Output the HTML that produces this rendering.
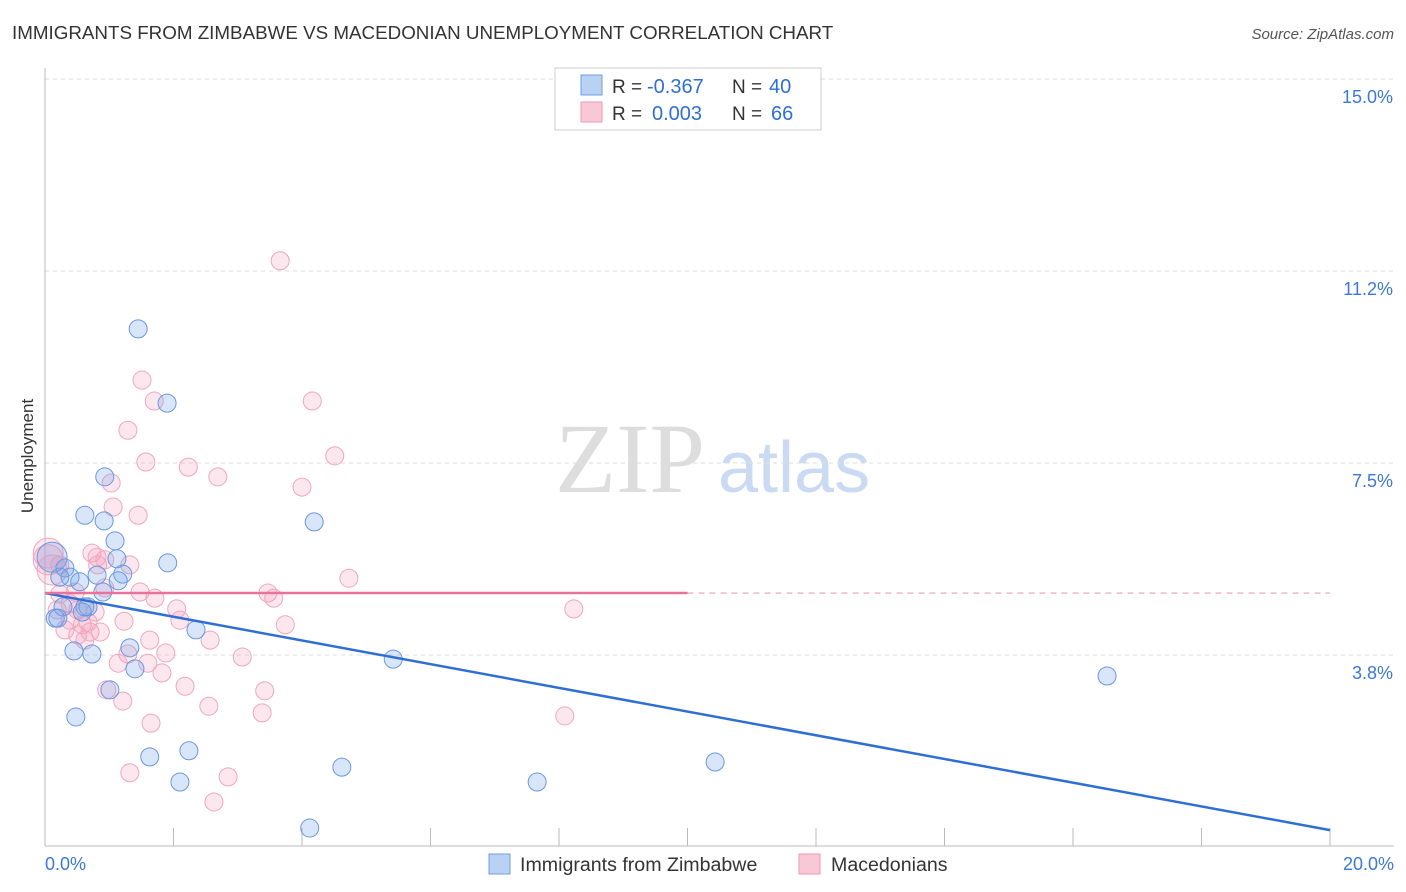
<!DOCTYPE html>
<html><head><meta charset="utf-8">
<style>
body{margin:0;background:#fff;font-family:"Liberation Sans",sans-serif;}
#wrap{position:relative;width:1406px;height:892px;overflow:hidden;}
</style></head>
<body>
<div id="wrap">
<svg id="svg" width="1406" height="892" xmlns="http://www.w3.org/2000/svg">
<text x="12" y="39" font-size="18.8" fill="#333">IMMIGRANTS FROM ZIMBABWE VS MACEDONIAN UNEMPLOYMENT CORRELATION CHART</text>
<text x="1394" y="39" font-size="15" fill="#555" font-style="italic" text-anchor="end">Source: ZipAtlas.com</text>
<text x="33" y="456" font-size="17" fill="#333" text-anchor="middle" transform="rotate(-90 33 456)">Unemployment</text>
<text x="555" y="492" font-size="100" fill="#ddd" font-family="Liberation Serif,serif">ZIP</text>
<text x="718" y="492" font-size="72" fill="#c9daf2">atlas</text>
<g id="grid"></g><g id="pts"></g><g id="lines"></g>
<g>
<rect x="555" y="68" width="266" height="62" fill="#fff" stroke="#ccc"/>
<rect x="581" y="75" width="21" height="20" fill="#b9d1f3" stroke="#6f9de0"/>
<rect x="581" y="102" width="21" height="20" fill="#f9c8d7" stroke="#ee9ab5"/>
<text x="612" y="93" font-size="19" fill="#333">R =</text>
<text x="647" y="93" font-size="20" fill="#2f6fd4">-0.367</text>
<text x="732" y="93" font-size="19" fill="#333">N =</text>
<text x="769" y="93" font-size="20" fill="#2f6fd4">40</text>
<text x="612" y="120" font-size="19" fill="#333">R =</text>
<text x="652" y="120" font-size="20" fill="#2f6fd4">0.003</text>
<text x="732" y="120" font-size="19" fill="#333">N =</text>
<text x="771" y="120" font-size="20" fill="#2f6fd4">66</text>
</g>
<g>
<rect x="489" y="854" width="21" height="20" fill="#b9d1f3" stroke="#6f9de0"/>
<text x="520" y="871" font-size="19.6" fill="#333">Immigrants from Zimbabwe</text>
<rect x="799" y="854" width="21" height="20" fill="#f9c8d7" stroke="#ee9ab5"/>
<text x="831" y="871" font-size="19.6" fill="#333">Macedonians</text>
</g>
</svg>
</div>
<script>
const xTickLabels=["0.0%","20.0%"];
const yTicks=[3.75,7.5,11.25,15];
const yTickLabels=["3.8%","7.5%","11.2%","15.0%"];
const blueX=[1.45,1.90,0.93,0.62,0.92,1.09,1.12,1.91,0.31,0.39,0.81,1.21,1.14,0.11,4.19,0.90,0.67,0.28,0.16,0.20,0.58,2.35,0.45,0.73,1.32,1.40,1.01,5.42,16.53,0.48,1.63,2.24,2.10,4.62,7.66,10.43,4.12,0.23,0.62,0.54];
const blueY=[10.12,8.67,7.23,6.48,6.37,5.98,5.63,5.55,5.45,5.27,5.31,5.33,5.20,5.66,6.35,4.98,4.69,4.69,4.47,4.47,4.59,4.24,3.83,3.77,3.89,3.48,3.07,3.67,3.34,2.54,1.76,1.88,1.27,1.56,1.27,1.66,0.37,5.27,4.69,5.18];
const pinkX=[3.66,1.51,1.70,4.16,1.29,1.57,2.23,4.51,2.69,4.00,1.03,1.06,1.45,0.05,0.73,0.81,1.32,0.82,0.23,4.73,1.48,1.71,3.47,3.56,2.05,8.23,0.39,0.51,0.58,2.10,1.23,3.74,0.70,0.51,0.86,2.57,1.88,1.29,3.07,1.14,1.60,1.82,0.96,2.18,3.42,1.21,2.55,1.65,3.38,8.09,1.32,2.85,2.63,0.05,0.11,0.47,0.23,0.93,0.67,0.19,0.31,0.62,0.93,0.39,1.63,0.78];
const pinkY=[11.45,9.12,8.71,8.71,8.14,7.52,7.42,7.64,7.23,7.03,7.11,6.64,6.48,5.74,5.74,5.66,5.51,5.51,5.51,5.25,4.98,4.86,4.96,4.86,4.65,4.65,4.75,4.63,4.34,4.43,4.41,4.34,4.20,4.14,4.20,4.04,3.79,3.77,3.71,3.59,3.59,3.40,3.07,3.14,3.05,2.85,2.75,2.42,2.62,2.56,1.45,1.37,0.88,5.61,5.41,4.98,4.94,5.06,4.39,4.63,4.24,4.04,5.61,4.43,4.04,4.59];
const blueTrend=[4.96,0.33];
const pinkTrend=[4.96,4.96];
const NS="http://www.w3.org/2000/svg";
const sx=v=>45+v*64.25, sy=v=>847-v*51.2;
function mk(tag,attrs,parent){const e=document.createElementNS(NS,tag);for(const k in attrs)e.setAttribute(k,attrs[k]);parent.appendChild(e);return e;}
const grid=document.getElementById('grid');
yTicks.forEach((t,i)=>{
 const l=mk('line',{x1:45,x2:1394,y1:sy(t),y2:sy(t),stroke:'#ddd','stroke-dasharray':'4,4'},grid);
 
 
 const tx=mk('text',{x:1393,y:sy(t)+24,'font-size':18,fill:'#3b78d8','text-anchor':'end'},grid);
 tx.textContent=yTickLabels[i];
 
 
});
const ax=mk('line',{x1:45,x2:45,y1:68,y2:846,stroke:'#bbb'},grid);


const bx=mk('line',{x1:45,x2:1394,y1:846,y2:846,stroke:'#bbb'},grid);


for(let i=1;i<=10;i++){const t=mk('line',{x1:sx(i*2),x2:sx(i*2),y1:828,y2:846,stroke:'#bbb'},grid);
 
 }
[[0,'start',45],[20,'end',1394]].forEach((a,i)=>{const t=mk('text',{x:a[2],y:870,'font-size':18,fill:'#3b78d8','text-anchor':a[1]},grid);t.textContent=xTickLabels[i];
 
 });
const pts=document.getElementById('pts');
function drawPts(X,Y,fill,stroke,name){X.forEach((x,i)=>{const big=(x<0.15&&Y[i]>5.3);
 const c=mk('circle',{cx:sx(x),cy:sy(Y[i]),r:big?15:9,fill:fill,stroke:stroke,'stroke-width':1},pts);
 
 });}
drawPts(pinkX,pinkY,'rgba(244,160,188,0.25)','#f0a6be','macedonians-point');
drawPts(blueX,blueY,'rgba(120,165,232,0.28)','#6a98e0','zimbabwe-point');
const lines=document.getElementById('lines');
const b=mk('line',{x1:sx(0),y1:sy(blueTrend[0]),x2:sx(20),y2:sy(blueTrend[1]),stroke:'#2f6fd4','stroke-width':2.5},lines);


const p=mk('line',{x1:sx(0),y1:sy(pinkTrend[0]),x2:sx(10),y2:sy(pinkTrend[0]+(pinkTrend[1]-pinkTrend[0])/2),stroke:'#e8729a','stroke-width':2.5},lines);


const pd=mk('line',{x1:sx(10),y1:sy(pinkTrend[0]),x2:sx(20),y2:sy(pinkTrend[1]),stroke:'#e8a0b8','stroke-width':1.2,'stroke-dasharray':'6,5'},lines);


</script>
</body></html>
